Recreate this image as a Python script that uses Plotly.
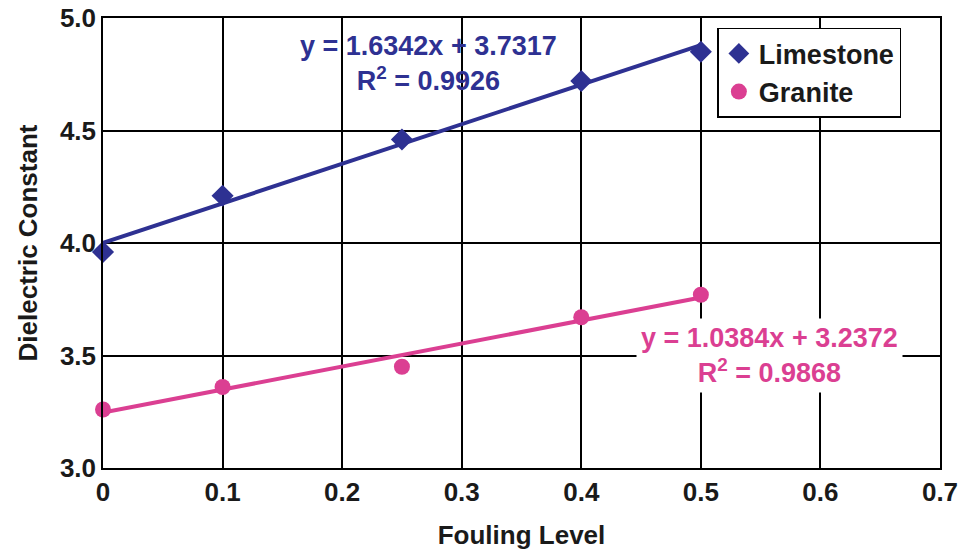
import numpy as np
import plotly.graph_objects as go

fouling = [0, 0.1, 0.25, 0.4, 0.5]
limestone = [3.96, 4.21, 4.46, 4.72, 4.85]
granite = [3.26, 3.36, 3.45, 3.67, 3.77]

x_ticks = [0, 0.1, 0.2, 0.3, 0.4, 0.5, 0.6, 0.7]
x_tick_labels = ["0", "0.1", "0.2", "0.3", "0.4", "0.5", "0.6", "0.7"]
y_ticks = [3.0, 3.5, 4.0, 4.5, 5.0]
y_tick_labels = ["3.0", "3.5", "4.0", "4.5", "5.0"]

lime_eq = "y = 1.6342x + 3.7317<br>R<sup>2</sup> = 0.9926"
gran_eq = "y = 1.0384x + 3.2372<br>R<sup>2</sup> = 0.9868"

BLUE = "#2E3192"
PINK = "#DB3F92"
TXT = "#1a1a1a"
FONT = "Liberation Sans, Arial, sans-serif"

xs = np.array(fouling)
fit_l = np.polyfit(xs, np.array(limestone), 1)
fit_g = np.polyfit(xs, np.array(granite), 1)
xl = np.array([min(fouling), max(fouling)])

fig = go.Figure()
fig.add_trace(go.Scatter(x=xl, y=np.polyval(fit_l, xl), mode="lines",
                         line=dict(color=BLUE, width=4), showlegend=False, cliponaxis=False))
fig.add_trace(go.Scatter(x=xl, y=np.polyval(fit_g, xl), mode="lines",
                         line=dict(color=PINK, width=4), showlegend=False, cliponaxis=False))
fig.add_trace(go.Scatter(x=fouling, y=limestone, mode="markers", name="Limestone",
                         marker=dict(symbol="diamond", size=17, color=BLUE), cliponaxis=False))
fig.add_trace(go.Scatter(x=fouling, y=granite, mode="markers", name="Granite",
                         marker=dict(symbol="circle", size=16, color=PINK), cliponaxis=False))

fig.add_annotation(x=0.2726, y=4.8, xref="x", yref="y", text=lime_eq, showarrow=False,
                   font=dict(family=FONT, size=27, color=BLUE, weight="bold"), align="center")
fig.add_annotation(x=0.5577, y=3.5, xref="x", yref="y", text=gran_eq, showarrow=False,
                   font=dict(family=FONT, size=27, color=PINK, weight="bold"), align="center",
                   bgcolor="white", borderpad=4)

axis_common = dict(showgrid=True, gridcolor="black", gridwidth=1.5, showline=True,
                   linecolor="black", linewidth=1.5, mirror=True, zeroline=False,
                   tickfont=dict(family=FONT, size=26, color=TXT, weight="bold"),
                   ticks="", automargin=False)
fig.update_xaxes(range=[0, 0.7], tickvals=x_ticks, ticktext=x_tick_labels,
                 title=dict(text="Fouling Level", font=dict(family=FONT, size=26, color=TXT, weight="bold"),
                            standoff=20),
                 **axis_common)
fig.update_yaxes(range=[3.0, 5.0], tickvals=y_ticks, ticktext=y_tick_labels,
                 title=dict(text="Dielectric Constant", font=dict(family=FONT, size=26, color=TXT, weight="bold"),
                            standoff=15),
                 **axis_common)

fig.update_layout(
    width=963, height=552,
    margin=dict(l=103, r=23, t=18, b=84),
    plot_bgcolor="white", paper_bgcolor="white",
    legend=dict(x=0.734, y=0.978, xanchor="left", yanchor="top",
                bgcolor="white", bordercolor="black", borderwidth=1.5,
                font=dict(family=FONT, size=27, color=TXT, weight="bold"),
                tracegroupgap=0, itemwidth=30, entrywidth=160),
)

fig.write_html("out.html")
